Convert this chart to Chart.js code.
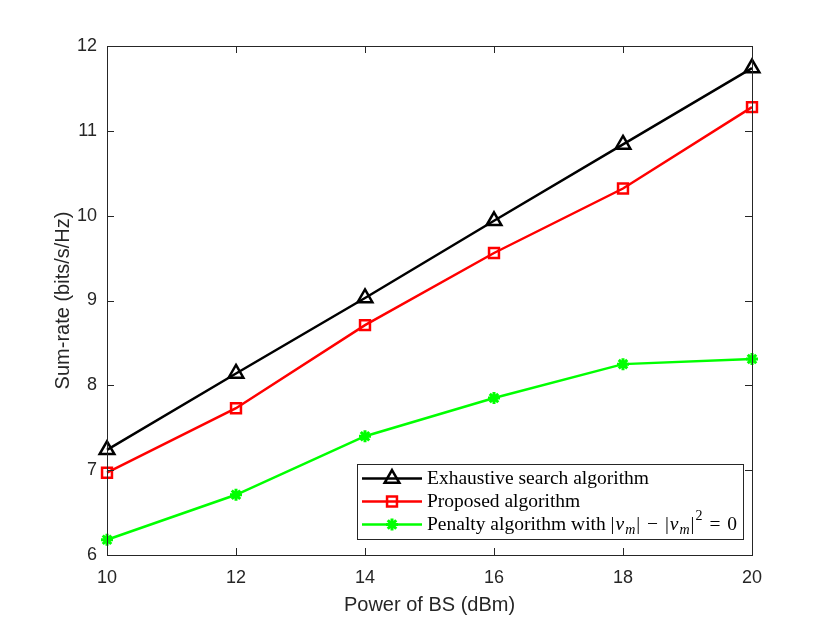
<!DOCTYPE html>
<html>
<head>
<meta charset="utf-8">
<script src="https://cdn.jsdelivr.net/npm/chart.js@4.4.0/dist/chart.umd.min.js"></script>
<style>
  body { margin: 0; background: #fff; }
  #wrap { width: 830px; height: 623px; }
</style>
</head>
<body>
<div id="wrap"><canvas id="rate-chart" width="830" height="623"></canvas></div>
<script>
// values
const powerBS = [10, 12, 14, 16, 18, 20];
const exhaustive = [7.24, 8.14, 9.03, 9.94, 10.84, 11.74];
const proposed = [6.97, 7.73, 8.71, 9.56, 10.32, 11.28];
const penalty = [6.18, 6.71, 7.40, 7.85, 8.25, 8.31];
const xTicks = [10, 12, 14, 16, 18, 20];
const yTicks = [6, 7, 8, 9, 10, 11, 12];
const seriesNames = ["Exhaustive search algorithm", "Proposed algorithm", "Penalty algorithm with "];

const axisColor = "#262626";
const sans = "'Liberation Sans', Arial, sans-serif";
const serif = "'Liberation Serif', 'Times New Roman', serif";

function toPoints(ys) {
  return powerBS.map((x, i) => ({ x: x, y: ys[i] }));
}

// draw a marker the same way chart.js does for the points
function marker(ctx, ds, x, y) {
  const opts = {
    pointStyle: ds.pointStyle,
    radius: ds.pointRadius,
    rotation: 0,
    borderWidth: ds.pointBorderWidth
  };
  ctx.save();
  ctx.strokeStyle = ds.borderColor;
  ctx.fillStyle = ds.pointBackgroundColor;
  ctx.lineWidth = ds.pointBorderWidth;
  if (Chart.helpers && Chart.helpers.drawPoint) {
    Chart.helpers.drawPoint(ctx, opts, x, y);
  }
  ctx.restore();
}

// |v_m| - |v_m|^2 = 0, returns the x where it ends
function drawMath(ctx, x, y, size, dryRun) {
  const small = Math.round(size * 0.7);
  const parts = [
    ["|", "n", 1], ["v", "i", 1], ["m", "sub", 1], ["|", "n", 0], [" ", "n", 2], ["\u2212", "n", 0], [" ", "n", 2],
    ["|", "n", 1], ["v", "i", 1], ["m", "sub", 1], ["|", "n", 1], ["2", "sup", 0], [" ", "n", 2], ["=", "n", 0], [" ", "n", 2], ["0", "n", 0]
  ];
  parts.forEach(([txt, kind, gap]) => {
    let dy = 0;
    if (kind === "n") ctx.font = size + "px " + serif;
    if (kind === "i") ctx.font = "italic " + size + "px " + serif;
    if (kind === "sub") { ctx.font = "italic " + small + "px " + serif; dy = size * 0.28; }
    if (kind === "sup") { ctx.font = small + "px " + serif; dy = -size * 0.42; }
    if (!dryRun) ctx.fillText(txt, x, y + dy);
    x += ctx.measureText(txt).width + gap;
  });
  return x;
}

const matlabBox = {
  id: "matlabBox",
  afterDraw(chart) {
    const { ctx, chartArea: a } = chart;
    const xs = chart.scales.x, ys = chart.scales.y;
    const tick = 7;
    ctx.save();
    ctx.strokeStyle = axisColor;
    ctx.lineWidth = 1;
    ctx.strokeRect(a.left + 0.5, a.top + 0.5, a.right - a.left, a.bottom - a.top);
    ctx.beginPath();
    xTicks.forEach(v => {
      const px = Math.round(xs.getPixelForValue(v)) + 0.5;
      ctx.moveTo(px, a.bottom); ctx.lineTo(px, a.bottom - tick);
      ctx.moveTo(px, a.top); ctx.lineTo(px, a.top + tick);
    });
    yTicks.forEach(v => {
      const py = Math.round(ys.getPixelForValue(v)) + 0.5;
      ctx.moveTo(a.left, py); ctx.lineTo(a.left + tick, py);
      ctx.moveTo(a.right, py); ctx.lineTo(a.right - tick, py);
    });
    ctx.stroke();

    // legend inside the axes, lower right
    const size = 19.5;
    const rowH = 23;
    let textW = 0;
    seriesNames.forEach((n, i) => {
      ctx.font = size + "px " + serif;
      let w = ctx.measureText(n).width;
      if (i === 2) w = drawMath(ctx, w, 0, size, true);
      textW = Math.max(textW, w);
    });
    const boxW = 70 + textW + 6;
    const boxH = rowH * 3 + 6;
    const right = a.right - 9, bottom = a.bottom - 16;
    const left = right - boxW, top = bottom - boxH;
    ctx.fillStyle = "#fff";
    ctx.fillRect(left, top, boxW, boxH);
    ctx.strokeStyle = axisColor;
    ctx.lineWidth = 1;
    ctx.strokeRect(Math.round(left) + 0.5, Math.round(top) + 0.5, Math.round(boxW), Math.round(boxH));

    chart.data.datasets.forEach((ds, i) => {
      const cy = top + 3 + rowH * i + rowH / 2;
      ctx.strokeStyle = ds.borderColor;
      ctx.lineWidth = ds.borderWidth;
      ctx.beginPath();
      ctx.moveTo(left + 5, cy);
      ctx.lineTo(left + 65, cy);
      ctx.stroke();
      marker(ctx, ds, left + 35, cy);
      ctx.fillStyle = "#000";
      ctx.textBaseline = "middle";
      ctx.textAlign = "left";
      ctx.font = size + "px " + serif;
      ctx.fillText(seriesNames[i], left + 70, cy);
      if (i === 2) {
        drawMath(ctx, left + 70 + ctx.measureText(seriesNames[i]).width, cy, size, false);
      }
    });
    ctx.restore();
  }
};

const config = {
  type: "line",
  data: {
    datasets: [
      {
        label: seriesNames[0],
        data: toPoints(exhaustive),
        borderColor: "#000000",
        backgroundColor: "#000000",
        borderWidth: 2.5,
        pointStyle: "triangle",
        pointRadius: 8.5,
        pointBorderWidth: 2.5,
        pointBackgroundColor: "rgba(0,0,0,0)",
        clip: false
      },
      {
        label: seriesNames[1],
        data: toPoints(proposed),
        borderColor: "#ff0000",
        backgroundColor: "#ff0000",
        borderWidth: 2.5,
        pointStyle: "rect",
        pointRadius: 7,
        pointBorderWidth: 2.5,
        pointBackgroundColor: "rgba(0,0,0,0)",
        clip: false
      },
      {
        label: "Penalty algorithm with |v_m| - |v_m|^2 = 0",
        data: toPoints(penalty),
        borderColor: "#00ff00",
        backgroundColor: "#00ff00",
        borderWidth: 2.5,
        pointStyle: "star",
        pointRadius: 6,
        pointBorderWidth: 3,
        pointBackgroundColor: "#00ff00",
        clip: false
      }
    ]
  },
  options: {
    responsive: false,
    animation: false,
    layout: { padding: { left: 0, top: 46, right: 78, bottom: 0 } },
    plugins: {
      legend: { display: false },
      tooltip: { enabled: false }
    },
    scales: {
      x: {
        type: "linear",
        min: 10,
        max: 20,
        afterBuildTicks: s => { s.ticks = xTicks.map(v => ({ value: v })); },
        afterFit: s => { s.height = 68; },
        grid: { display: false, drawTicks: false },
        border: { display: false },
        ticks: { color: axisColor, padding: 12, font: { family: sans, size: 18 } },
        title: {
          display: true,
          text: "Power of BS (dBm)",
          color: axisColor,
          font: { family: sans, size: 20 },
          padding: { top: 0, bottom: 6 }
        }
      },
      y: {
        type: "linear",
        min: 6,
        max: 12,
        afterBuildTicks: s => { s.ticks = yTicks.map(v => ({ value: v })); },
        afterFit: s => { s.width = 107; },
        grid: { display: false, drawTicks: false },
        border: { display: false },
        ticks: { color: axisColor, padding: 10, font: { family: sans, size: 18 } },
        title: {
          display: true,
          text: "Sum-rate (bits/s/Hz)",
          color: axisColor,
          font: { family: sans, size: 20 },
          padding: { top: 51, bottom: 0 }
        }
      }
    }
  },
  plugins: [matlabBox]
};

let chartStatus = Chart.getChart("rate-chart");
if (chartStatus !== undefined) {
  chartStatus.destroy();
}
const ctx = document.getElementById("rate-chart").getContext("2d");
window.rateChart = new Chart(ctx, config);
</script>
</body>
</html>
